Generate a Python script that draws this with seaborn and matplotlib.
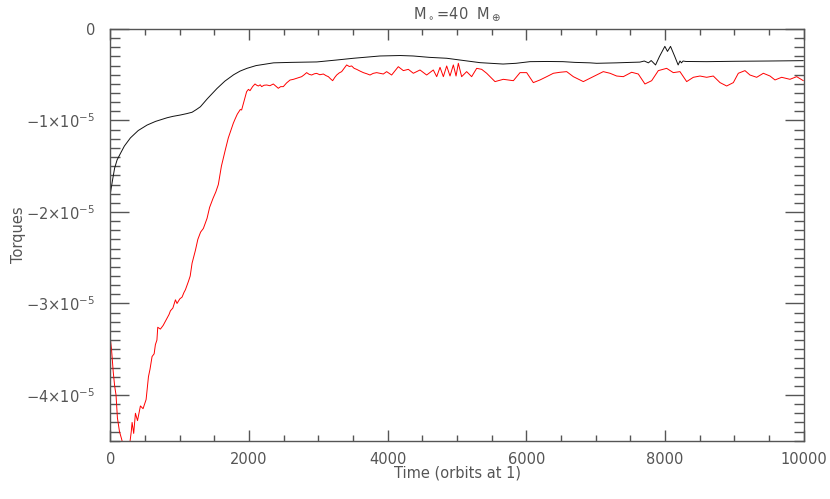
import matplotlib
matplotlib.use("Agg")
import matplotlib.pyplot as plt
from matplotlib.ticker import MultipleLocator
import pandas as pd
import seaborn as sns

# black curve (time in orbits, torque in units of 1e-5)
t_black = [0, 30, 60, 96, 144, 200, 288, 400, 528, 650, 817, 900, 1009, 1100,
           1177, 1240, 1297, 1400, 1537, 1650, 1777, 1870, 1969, 2100, 2353,
           2600, 2977, 3250, 3505, 3888, 4179, 4366, 4600, 4851, 5100, 5331,
           5663, 5850, 6052, 6300, 6527, 6700, 6917, 7013, 7300, 7500, 7637,
           7700, 7760, 7800, 7820, 7863, 7920, 7997, 8035, 8079, 8140, 8189,
           8215, 8237, 8260, 8300, 8600, 9000, 9500, 9995]
v_black = [-1.79, -1.65, -1.52, -1.43, -1.36, -1.28, -1.19, -1.11, -1.05, -1.01,
           -0.97, -0.955, -0.94, -0.925, -0.91, -0.88, -0.85, -0.76, -0.65,
           -0.57, -0.50, -0.46, -0.43, -0.40, -0.37, -0.365, -0.36, -0.34,
           -0.32, -0.295, -0.29, -0.295, -0.31, -0.32, -0.345, -0.368, -0.383,
           -0.375, -0.357, -0.355, -0.357, -0.365, -0.37, -0.375, -0.37, -0.365,
           -0.362, -0.35, -0.37, -0.345, -0.36, -0.393, -0.30, -0.19, -0.245,
           -0.19, -0.30, -0.393, -0.35, -0.37, -0.35, -0.355, -0.357, -0.353,
           -0.35, -0.346]

# red curve
t_red = [0, 15, 40, 60, 80, 100, 130, 160, 200, 250, 280, 300, 312, 335, 360,
         390, 432, 470, 514, 548, 570, 600, 630, 648, 670, 682, 720, 760, 817,
         845, 865, 900, 937, 960, 1000, 1033, 1060, 1081, 1124, 1150, 1177,
         1225, 1260, 1300, 1340, 1393, 1430, 1480, 1520, 1556, 1600, 1657,
         1700, 1740, 1772, 1800, 1830, 1873, 1892, 1930, 1964, 1990, 2013,
         2050, 2085, 2110, 2133, 2160, 2181, 2215, 2253, 2300, 2349, 2385,
         2421, 2455, 2493, 2540, 2590, 2640, 2686, 2720, 2758, 2795, 2830,
         2865, 2902, 2940, 2974, 3020, 3071, 3110, 3143, 3175, 3205, 3235,
         3263, 3300, 3335, 3370, 3407, 3445, 3479, 3515, 3551, 3600, 3648,
         3700, 3744, 3790, 3840, 3888, 3936,
         3984, 4056, 4152, 4225, 4297, 4369, 4465, 4561, 4657,
         4706, 4754, 4802, 4850, 4898, 4946, 4985, 5018, 5066, 5138, 5210,
         5283, 5355, 5427, 5547, 5667, 5812, 5908, 6004, 6100, 6196, 6293,
         6389, 6485, 6581, 6677, 6821, 6917, 7013, 7109, 7206, 7302, 7398,
         7518, 7614, 7710, 7807, 7903, 8023, 8119, 8215, 8312, 8408, 8504,
         8600, 8696, 8793, 8889, 8985, 9057, 9153, 9225, 9322, 9418, 9514,
         9586, 9682, 9802, 9899, 9995]
v_red = [-3.40, -3.50, -3.75, -3.90, -4.00, -4.25, -4.40, -4.48, -4.60, -4.60,
         -4.52, -4.40, -4.30, -4.42, -4.20, -4.28, -4.12, -4.15, -4.05, -3.80,
         -3.72, -3.58, -3.55, -3.45, -3.40, -3.26, -3.28, -3.24, -3.16, -3.12,
         -3.08, -3.05, -2.96, -3.00, -2.95, -2.93, -2.88, -2.85, -2.76, -2.70,
         -2.56, -2.42, -2.30, -2.22, -2.18, -2.07, -1.95, -1.85, -1.78, -1.70,
         -1.50, -1.32, -1.19, -1.10, -1.03, -0.98, -0.93, -0.88, -0.885, -0.78,
         -0.685, -0.66, -0.674, -0.63, -0.601, -0.615, -0.623, -0.61, -0.63,
         -0.615, -0.612, -0.62, -0.601, -0.625, -0.648, -0.63, -0.63, -0.59,
         -0.558, -0.55, -0.539, -0.53, -0.521, -0.50, -0.477, -0.495, -0.503,
         -0.49, -0.485, -0.50, -0.492, -0.51, -0.521, -0.545, -0.565, -0.53,
         -0.503, -0.48, -0.466, -0.43, -0.393, -0.41, -0.404, -0.43, -0.441,
         -0.46, -0.477, -0.49, -0.503, -0.485, -0.477, -0.484, -0.492,
         -0.466, -0.503, -0.412, -0.455, -0.441, -0.484, -0.448, -0.503, -0.448,
         -0.521, -0.419, -0.521, -0.404, -0.514, -0.393, -0.514, -0.375,
         -0.521, -0.466, -0.521, -0.430, -0.441, -0.484, -0.575, -0.550,
         -0.565, -0.477, -0.477, -0.586, -0.557, -0.521, -0.484, -0.473,
         -0.466, -0.521, -0.575, -0.539, -0.503, -0.466, -0.484, -0.514,
         -0.521, -0.473, -0.492, -0.601, -0.565, -0.455, -0.430, -0.477,
         -0.466, -0.575, -0.528, -0.514, -0.528, -0.514, -0.586, -0.623,
         -0.586, -0.484, -0.455, -0.503, -0.528, -0.484, -0.514, -0.557,
         -0.528, -0.550, -0.521, -0.565]

y_ticks = [0, -1, -2, -3, -4]
y_labels = ["0", "−1×10$^{-5}$", "−2×10$^{-5}$", "−3×10$^{-5}$", "−4×10$^{-5}$"]
x_ticks = [0, 2000, 4000, 6000, 8000, 10000]

grey = "#555555"

sns.set_style("ticks")
plt.rcParams["font.family"] = ["DejaVu Sans"]
plt.rcParams["mathtext.fontset"] = "dejavusans"

fig = plt.figure(figsize=(8.3, 4.99), dpi=100)
ax = fig.add_axes([0.1331, 0.1168, 0.9683 - 0.1331, 0.9419 - 0.1168])

df_b = pd.DataFrame({"t": t_black, "v": v_black})
df_r = pd.DataFrame({"t": t_red, "v": v_red})
sns.lineplot(data=df_b, x="t", y="v", color="#111111", lw=0.7, ax=ax, estimator=None)
sns.lineplot(data=df_r, x="t", y="v", color="red", lw=0.7, ax=ax, estimator=None)

ax.set_xlim(0, 10000)
ax.set_ylim(-4.5, 0)
ax.set_xticks(x_ticks)
ax.set_xticklabels([str(x) for x in x_ticks])
ax.set_yticks(y_ticks)
ax.set_yticklabels(y_labels)
ax.xaxis.set_minor_locator(MultipleLocator(500))
ax.yaxis.set_minor_locator(MultipleLocator(0.1))

ax.tick_params(axis="x", which="major", direction="in", length=8, width=1,
               color=grey, labelcolor=grey, labelsize=10.5, top=True, pad=8)
ax.tick_params(axis="x", which="minor", direction="in", length=4.5, width=1,
               color=grey, top=True)
ax.tick_params(axis="y", which="major", direction="in", length=14, width=1,
               color=grey, labelcolor=grey, labelsize=10.5, right=True, pad=11)
ax.tick_params(axis="y", which="minor", direction="in", length=7, width=1,
               color=grey, right=True)
for s in ax.spines.values():
    s.set_color(grey)
    s.set_linewidth(1)

ax.set_xlabel("Time (orbits at 1)", color=grey, fontsize=10.5, labelpad=-1)
ax.set_ylabel("Torques", color=grey, fontsize=10.5, labelpad=0)
ax.set_title(r"M$_\circ$=40  M$_\oplus$", color=grey, fontsize=10.5, pad=8)

fig.savefig("out.png", dpi=100)
